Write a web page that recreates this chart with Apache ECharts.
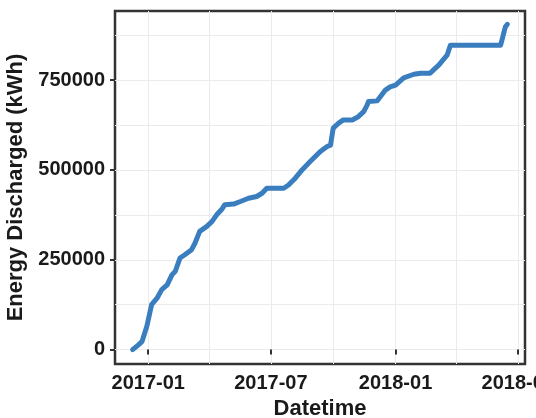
<!DOCTYPE html>
<html>
<head>
<meta charset="utf-8">
<script src="https://cdn.jsdelivr.net/npm/echarts@6/dist/echarts.min.js"></script>
<style>
  html, body { margin: 0; padding: 0; background: #ffffff; }
  #chart { width: 536px; height: 418px; }
</style>
</head>
<body>
<div id="chart"></div>
<script>
// Cumulative energy discharged over time
const dates = [
  '2016-12-09', '2016-12-18', '2016-12-23', '2016-12-30', '2017-01-06',
  '2017-01-14', '2017-01-21', '2017-01-29', '2017-02-05', '2017-02-10',
  '2017-02-17', '2017-02-24', '2017-03-06', '2017-03-11', '2017-03-18',
  '2017-03-28', '2017-04-05', '2017-04-12', '2017-04-19', '2017-04-24',
  '2017-05-07', '2017-05-17', '2017-05-29', '2017-06-10', '2017-06-18',
  '2017-06-25', '2017-07-20', '2017-07-27', '2017-08-06', '2017-08-16',
  '2017-08-28', '2017-09-12', '2017-09-22', '2017-09-27', '2017-10-01',
  '2017-10-09', '2017-10-16', '2017-10-29', '2017-11-07', '2017-11-15',
  '2017-11-20', '2017-11-22', '2017-12-05', '2017-12-17', '2017-12-24',
  '2018-01-01', '2018-01-13', '2018-01-28', '2018-02-07', '2018-02-21',
  '2018-03-06', '2018-03-18', '2018-03-23', '2018-06-05', '2018-06-07',
  '2018-06-12', '2018-06-15'
];
const energyKWh = [
  0, 14000, 23000, 65000, 125000,
  143000, 167000, 180000, 208000, 218000,
  255000, 264000, 278000, 296000, 329000,
  342000, 356000, 375000, 389000, 403000,
  405000, 412000, 421000, 426000, 435000,
  449000, 449000, 458000, 477000, 500000,
  523000, 551000, 565000, 569000, 616000,
  630000, 639000, 639000, 648000, 662000,
  680000, 690000, 692000, 722000, 731000,
  736000, 756000, 766000, 769000, 769000,
  792000, 819000, 847000, 847000, 861000,
  898000, 905000
];
const yTicks = [0, 250000, 500000, 750000];
const yMinorGrid = [125000, 375000, 625000, 875000];
const xTicks = ['2017-01-01', '2017-07-01', '2018-01-01', '2018-07-01'];
const xMinorGrid = ['2017-04-01', '2017-10-01', '2018-04-01'];
const xRange = ['2016-11-13', '2018-07-11'];
const yRange = [-40000, 942000];

// Dates are handled as UTC millisecond timestamps on a numeric axis
const ts = s => new Date(s + 'T00:00:00Z').getTime();
const pad = n => (n < 10 ? '0' : '') + n;
const fmtMonth = v => { const d = new Date(v); return d.getUTCFullYear() + '-' + pad(d.getUTCMonth() + 1); };

const FONT = "'Liberation Sans', Arial, Helvetica, sans-serif";
const INK = '#1a1a1a';
const GRID = '#ebebeb';
const label = { fontFamily: FONT, fontWeight: 'bold', fontSize: 20, color: INK };

const chart = echarts.init(document.getElementById('chart'), null, { renderer: 'canvas' });
chart.setOption({
  animation: false,
  backgroundColor: '#ffffff',
  grid: {
    left: 115, top: 11, right: 11, bottom: 54,
    containLabel: false, outerBoundsMode: 'none',
    show: true, borderColor: '#333333', borderWidth: 2.5, backgroundColor: 'transparent'
  },
  xAxis: [
    {
      type: 'value', min: ts(xRange[0]), max: ts(xRange[1]),
      axisLine: { show: false },
      axisTick: { show: true, customValues: xTicks.map(ts), length: 5, lineStyle: { color: '#333333', width: 2 } },
      axisLabel: { ...label, customValues: xTicks.map(ts), margin: 9, formatter: fmtMonth, hideOverlap: false },
      splitLine: { show: false },
      name: 'Datetime', nameLocation: 'middle', nameGap: 29,
      nameTextStyle: { fontFamily: FONT, fontWeight: 'bold', fontSize: 22, color: INK },
      z: 3
    },
    {
      type: 'value', min: ts(xRange[0]), max: ts(xRange[1]),
      axisLine: { show: false },
      axisTick: { show: false, customValues: xTicks.concat(xMinorGrid).map(ts) },
      axisLabel: { show: false, customValues: xTicks.concat(xMinorGrid).map(ts) },
      splitLine: { show: true, lineStyle: { color: GRID, width: 1 } }
    }
  ],
  yAxis: [
    {
      type: 'value', min: yRange[0], max: yRange[1],
      axisLine: { show: false },
      axisTick: { show: true, customValues: yTicks, length: 5, lineStyle: { color: '#333333', width: 2 } },
      axisLabel: { ...label, customValues: yTicks, margin: 10, formatter: v => String(v) },
      splitLine: { show: false },
      name: 'Energy Discharged (kWh)', nameLocation: 'middle', nameGap: 73,
      nameTextStyle: { fontFamily: FONT, fontWeight: 'bold', fontSize: 22, color: INK },
      z: 3
    },
    {
      type: 'value', min: yRange[0], max: yRange[1],
      axisLine: { show: false },
      axisTick: { show: false, customValues: yTicks.concat(yMinorGrid) },
      axisLabel: { show: false, customValues: yTicks.concat(yMinorGrid) },
      splitLine: { show: true, lineStyle: { color: GRID, width: 1 } }
    }
  ],
  series: [{
    type: 'line',
    xAxisIndex: 0, yAxisIndex: 0,
    data: dates.map((d, i) => [ts(d), energyKWh[i]]),
    showSymbol: false,
    lineStyle: { color: '#3a7ebf', width: 5, cap: 'round', join: 'round' },
    itemStyle: { color: '#3a7ebf' },
    z: 5
  }]
});
</script>
</body>
</html>
